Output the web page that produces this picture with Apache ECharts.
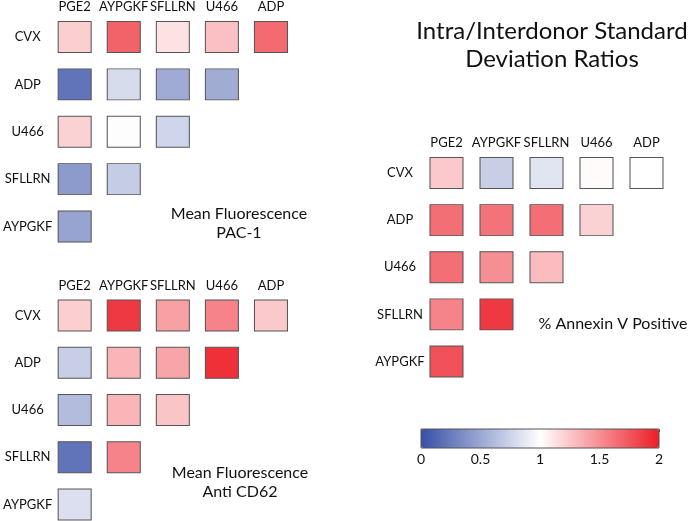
<!DOCTYPE html>
<html>
<head>
<meta charset="utf-8">
<script src="https://cdn.jsdelivr.net/npm/echarts@6/dist/echarts.min.js"></script>
<style>html,body{margin:0;padding:0;background:#fff}#c{width:688px;height:521px}</style>
</head>
<body>
<div id="c"></div>
<script>
// Column (top) and row (left) categories
var colCats = ['PGE2', 'AYPGKF', 'SFLLRN', 'U466', 'ADP'];
var rowCats = ['CVX', 'ADP', 'U466', 'SFLLRN', 'AYPGKF'];
var colorbarTicks = [0, 0.5, 1, 1.5, 2];

// Mean Fluorescence PAC-1 (rows CVX..AYPGKF; columns PGE2..)
var pac1 = [
  [1.22, 1.70, 1.13, 1.28, 1.66],
  [0.21, 0.80, 0.52, 0.53],
  [1.20, 0.99, 0.76],
  [0.43, 0.71],
  [0.48]
];
// Mean Fluorescence Anti CD62
var cd62 = [
  [1.22, 1.88, 1.42, 1.55, 1.24],
  [0.72, 1.33, 1.40, 1.92],
  [0.62, 1.33, 1.26],
  [0.21, 1.55],
  [0.82]
];
// % Annexin V Positive
var annexin = [
  [1.24, 0.72, 0.85, 1.02, 1.00],
  [1.64, 1.62, 1.64, 1.20],
  [1.64, 1.50, 1.30],
  [1.55, 1.88],
  [1.77]
];

function toData(m) {
  var out = [];
  m.forEach(function (row, r) {
    row.forEach(function (v, c) { out.push([c, r, v]); });
  });
  return out;
}

var FONT = 'Lato';
// grid top/height span first-row centre to last-row centre (boundaryGap false on y)
var grids = [
  {left: 45.5, top: 35.5, width: 250, height: 191, ym: 22.5, xm: 24},
  {left: 45.5, top: 315.5, width: 250, height: 189, ym: 22.5, xm: 23.5},
  {left: 421.5, top: 173, width: 250, height: 188.5, ym: 21.5, xm: 23.5}
];
var sets = [pac1, cd62, annexin];

var option = {
  backgroundColor: '#ffffff',
  animation: false,
  textStyle: {fontFamily: FONT},
  title: [
    {text: 'Intra/Interdonor Standard\nDeviation Ratios', left: 547, top: 12, textAlign: 'center',
     textStyle: {fontFamily: FONT, fontSize: 24, fontWeight: 'normal', color: '#111', lineHeight: 28}},
    {text: 'Mean Fluorescence\nPAC-1', left: 234, top: 199.5, textAlign: 'center',
     textStyle: {fontFamily: FONT, fontSize: 16, fontWeight: 'normal', color: '#111', lineHeight: 19}},
    {text: 'Mean Fluorescence\nAnti CD62', left: 235, top: 458, textAlign: 'center',
     textStyle: {fontFamily: FONT, fontSize: 16, fontWeight: 'normal', color: '#111', lineHeight: 19}},
    {text: '% Annexin V Positive', left: 608, top: 309.5, textAlign: 'center',
     textStyle: {fontFamily: FONT, fontSize: 16, fontWeight: 'normal', color: '#111', lineHeight: 19}}
  ],
  grid: grids.map(function (g) {
    return {left: g.left, top: g.top, width: g.width, height: g.height, containLabel: false};
  }).concat([{left: 421, top: 429, width: 238, height: 19, show: true, z: 10,
              borderColor: '#555', borderWidth: 1, backgroundColor: 'transparent'}]),
  xAxis: grids.map(function (g, i) {
    return {type: 'category', gridIndex: i, data: colCats, position: 'top',
            axisLine: {show: false}, axisTick: {show: false}, splitLine: {show: false},
            axisLabel: {interval: 0, hideOverlap: false, margin: g.xm, fontSize: 13, color: '#111', fontFamily: FONT}};
  }).concat([
    {type: 'value', gridIndex: 3, min: 0, max: 2, interval: 0.5, position: 'bottom',
     axisLine: {show: false}, splitLine: {show: false},
     axisTick: {show: false},
     axisLabel: {margin: 4, fontSize: 14, color: '#111', fontFamily: FONT}},
    {type: 'value', gridIndex: 3, min: 0, max: 2, interval: 0.5, position: 'top',
     axisLine: {show: false}, splitLine: {show: false},
     axisTick: {show: true, inside: true, length: 3, lineStyle: {color: '#555'}},
     axisLabel: {show: false}}
  ]),
  yAxis: grids.map(function (g, i) {
    return {type: 'category', gridIndex: i, data: rowCats, inverse: true, boundaryGap: false,
            axisLine: {show: false}, axisTick: {show: false}, splitLine: {show: false},
            axisLabel: {interval: 0, hideOverlap: false, margin: g.ym, align: 'center', fontSize: 13, color: '#111', fontFamily: FONT}};
  }).concat([{type: 'value', gridIndex: 3, show: false, min: 0, max: 1}]),
  visualMap: {
    type: 'continuous', min: 0, max: 2, orient: 'horizontal',
    left: 421, top: 429, itemWidth: 19, itemHeight: 238,
    calculable: false, showLabel: false, text: null, padding: 0,
    seriesIndex: [0, 1, 2], dimension: 2,
    inRange: {color: ['#374fa6', '#ffffff', '#ed1e28']}
  },
  series: sets.map(function (m, i) {
    return {type: 'scatter', xAxisIndex: i, yAxisIndex: i, symbol: 'rect', symbolSize: [33, 31],
            itemStyle: {borderColor: '#555', borderWidth: 1, opacity: 1},
            data: toData(m)};
  })
};

var chart = echarts.init(document.getElementById('c'), null, {renderer: 'canvas'});
chart.setOption(option);
</script>
</body>
</html>
